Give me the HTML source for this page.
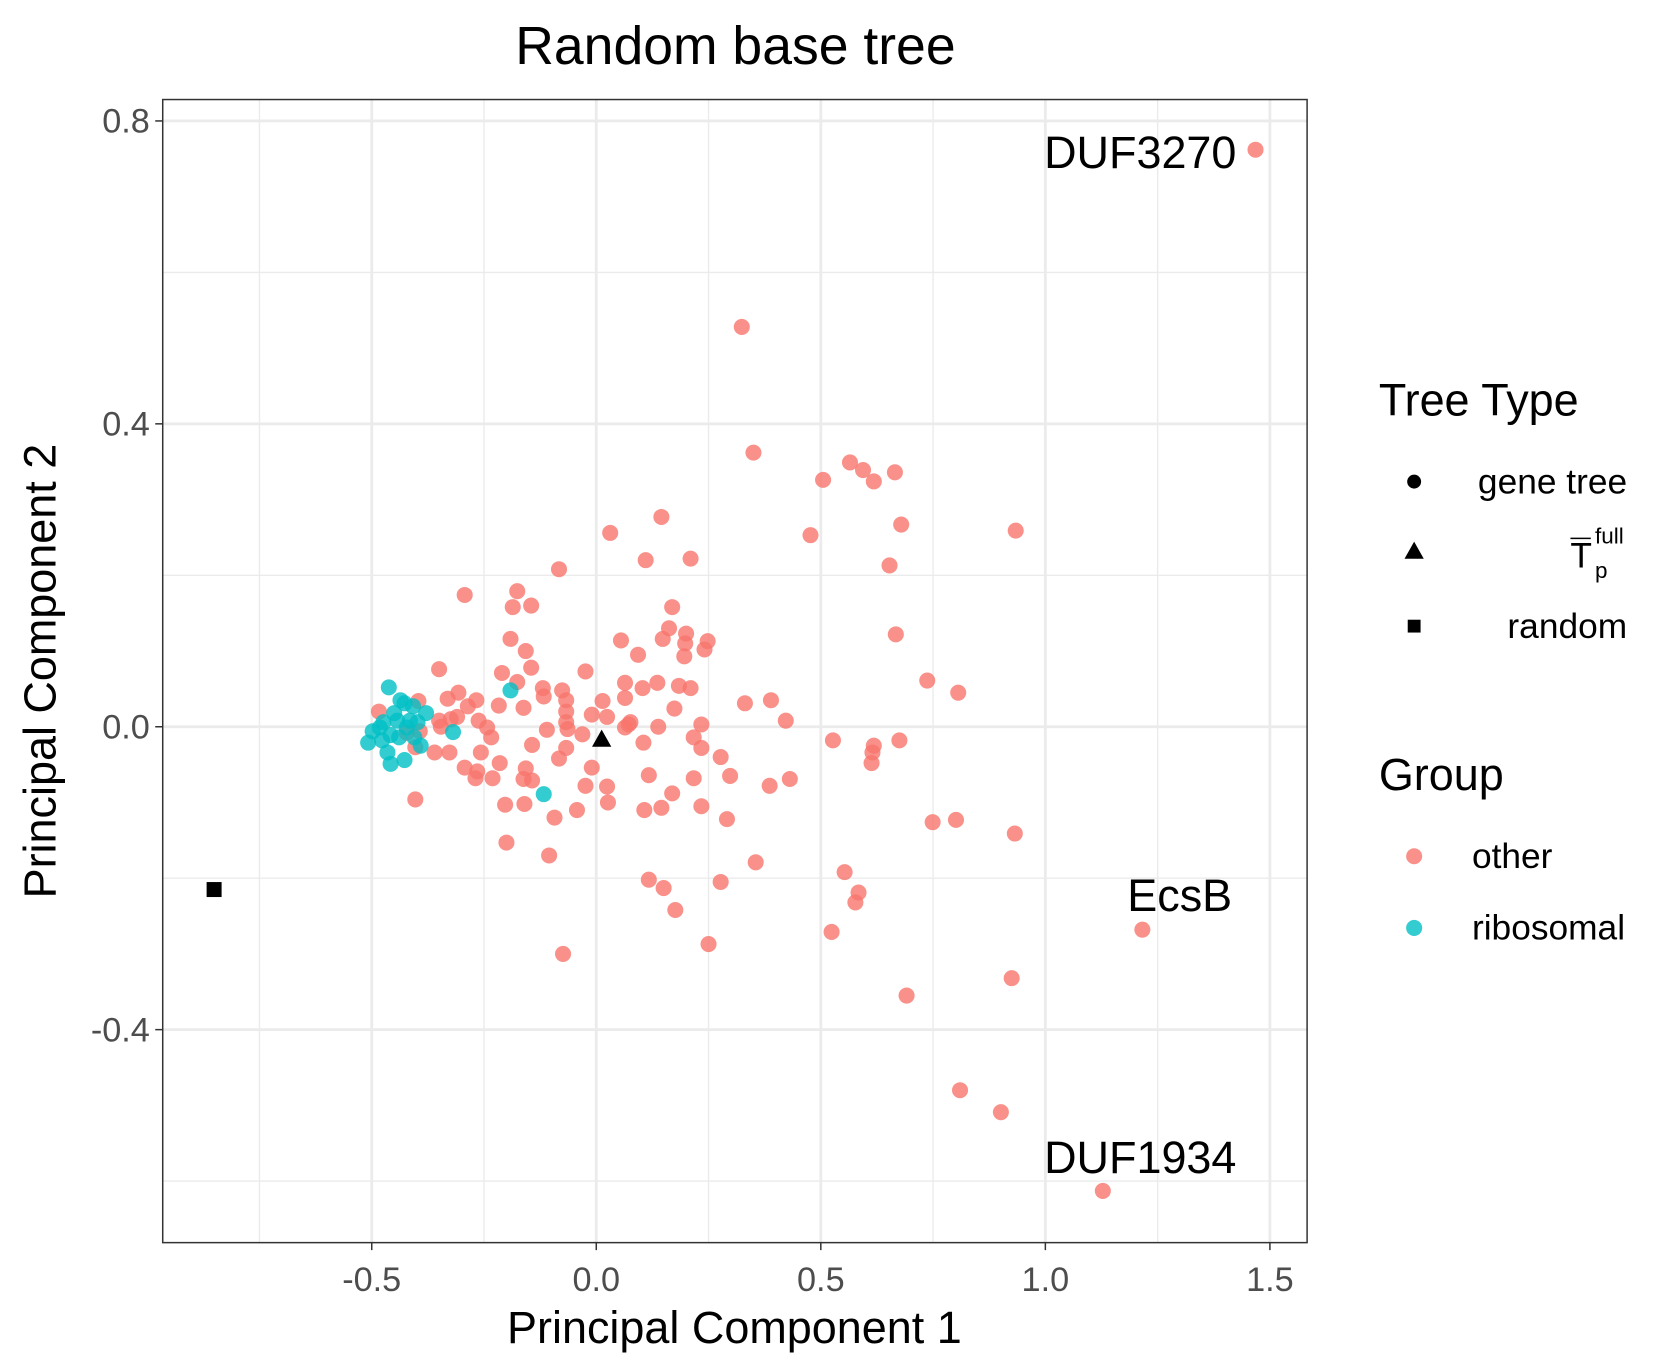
<!DOCTYPE html>
<html><head><meta charset="utf-8"><style>
html,body{margin:0;padding:0;background:#fff;}
svg{display:block;font-family:"Liberation Sans",sans-serif;}
</style></head><body>
<svg width="1670" height="1370" viewBox="0 0 1560 1280" preserveAspectRatio="none" xmlns="http://www.w3.org/2000/svg">
<rect width="1560" height="1280" fill="#fff"/>
<g id="grid"></g>
<g id="pts"></g>
<rect x="152" y="93" width="1069" height="1068" fill="none" stroke="#333" stroke-width="1.4"/>
<g id="axes"></g>
<text x="687" y="60" font-size="50" text-anchor="middle">Random base tree</text>
<text x="686" y="1255" font-size="42" text-anchor="middle">Principal Component 1</text>
<text transform="translate(52,627) rotate(-90)" font-size="42" text-anchor="middle">Principal Component 2</text>
<text x="1155" y="157" font-size="42" text-anchor="end">DUF3270</text>
<text x="1151" y="851" font-size="42" text-anchor="end">EcsB</text>
<text x="1155" y="1096" font-size="42" text-anchor="end">DUF1934</text>
<g>
<text x="1288" y="388" font-size="42">Tree Type</text>
<circle cx="1321" cy="450" r="6.5" fill="#000"/>
<text x="1520" y="461" font-size="33" text-anchor="end">gene tree</text>
<polygon points="1321,506 1330,522 1312,522" fill="#000"/>
<text x="1467" y="530" font-size="33">T</text>
<line x1="1467" y1="503" x2="1486" y2="503" stroke="#000" stroke-width="1.5"/>
<text x="1490" y="508" font-size="21">full</text>
<text x="1490" y="540" font-size="21">p</text>
<rect x="1315" y="579" width="12" height="12" fill="#000"/>
<text x="1520" y="596" font-size="33" text-anchor="end">random</text>
</g>
<g>
<text x="1288" y="738" font-size="42">Group</text>
<circle cx="1321" cy="800" r="7.5" fill="#F8766D" fill-opacity="0.8"/>
<text x="1375" y="811" font-size="33">other</text>
<circle cx="1321" cy="867" r="7.5" fill="#00BFC4" fill-opacity="0.8"/>
<text x="1375" y="878" font-size="33">ribosomal</text>
</g>
</svg>
<script>
const otherX=[1.468,0.324,0.350,0.565,0.594,0.665,0.505,0.618,0.145,0.679,0.934,0.031,0.477,0.110,0.210,0.653,-0.083,-0.293,-0.176,-0.186,-0.145,0.169,0.162,0.200,0.055,0.148,0.248,0.667,-0.191,0.198,0.241,0.093,-0.157,0.196,-0.350,-0.145,-0.024,-0.210,0.737,0.064,0.136,0.103,0.184,0.210,0.806,-0.176,-0.307,-0.119,-0.076,-0.267,-0.286,-0.331,-0.396,-0.117,-0.067,0.014,0.064,0.331,0.389,-0.217,-0.162,0.174,-0.067,0.024,-0.010,-0.067,0.076,0.072,0.064,0.138,0.234,0.422,-0.350,-0.324,-0.310,-0.262,-0.346,-0.064,-0.110,-0.243,-0.031,-0.234,0.217,0.105,0.527,0.675,0.618,-0.143,-0.067,0.234,0.615,0.613,0.277,-0.327,-0.360,-0.257,-0.215,-0.293,-0.265,-0.269,-0.231,-0.157,-0.162,-0.143,-0.083,-0.010,0.117,0.217,0.298,-0.024,0.024,0.169,0.386,0.431,-0.203,-0.160,0.026,-0.043,0.107,0.145,0.234,-0.093,0.291,0.749,0.801,0.932,-0.403,-0.200,-0.105,0.355,0.553,0.117,0.150,0.277,0.584,0.577,0.176,1.216,0.524,0.250,-0.074,0.925,0.691,0.810,0.901,1.128,-0.484,-0.393,-0.422,-0.403];
const otherY=[0.762,0.528,0.362,0.349,0.339,0.336,0.326,0.324,0.277,0.267,0.259,0.256,0.253,0.220,0.222,0.213,0.208,0.174,0.179,0.158,0.160,0.158,0.130,0.123,0.114,0.116,0.113,0.122,0.116,0.110,0.102,0.095,0.100,0.093,0.076,0.078,0.073,0.071,0.061,0.058,0.058,0.051,0.054,0.051,0.045,0.059,0.045,0.051,0.048,0.035,0.027,0.037,0.034,0.040,0.035,0.034,0.038,0.031,0.035,0.028,0.025,0.024,0.020,0.013,0.016,0.006,0.006,0.003,-0.001,0.000,0.003,0.008,0.008,0.010,0.013,0.008,0.000,-0.003,-0.004,-0.001,-0.010,-0.014,-0.014,-0.021,-0.018,-0.018,-0.025,-0.024,-0.028,-0.028,-0.034,-0.048,-0.040,-0.034,-0.034,-0.034,-0.048,-0.054,-0.059,-0.068,-0.068,-0.055,-0.069,-0.071,-0.042,-0.054,-0.064,-0.068,-0.065,-0.078,-0.079,-0.088,-0.078,-0.069,-0.103,-0.102,-0.100,-0.110,-0.110,-0.107,-0.105,-0.120,-0.122,-0.126,-0.123,-0.141,-0.096,-0.153,-0.170,-0.179,-0.192,-0.202,-0.213,-0.205,-0.219,-0.232,-0.242,-0.268,-0.271,-0.287,-0.300,-0.332,-0.355,-0.480,-0.509,-0.613,0.020,-0.006,-0.008,-0.027];
const riboX=[-0.462,-0.436,-0.427,-0.408,-0.379,-0.450,-0.474,-0.443,-0.415,-0.498,-0.508,-0.477,-0.458,-0.439,-0.405,-0.465,-0.427,-0.458,-0.391,-0.319,-0.191,-0.117,-0.422,-0.398,-0.482];
const riboY=[0.052,0.035,0.031,0.027,0.018,0.018,0.006,0.008,0.008,-0.006,-0.021,-0.018,-0.011,-0.014,-0.014,-0.034,-0.044,-0.049,-0.025,-0.007,0.048,-0.089,-0.001,0.006,-0.001];
const baseTreeX=[0.012], baseTreeY=[-0.018];
const randomX=[-0.851], randomY=[-0.215];
const xTicks=[-0.5,0,0.5,1,1.5], xTickLabels=["-0.5","0.0","0.5","1.0","1.5"];
const yTicks=[0.8,0.4,0,-0.4], yTickLabels=["0.8","0.4","0.0","-0.4"];
const xMinor=[-0.75,-0.25,0.25,0.75,1.25], yMinor=[0.6,0.2,-0.2,-0.6];

const L=152,R=1221,T=93,B=1161;
const sx=v=>557+v*419.5, sy=v=>679-v*707.5;
const NS="http://www.w3.org/2000/svg";
function mk(tag,attrs,parent){const e=document.createElementNS(NS,tag);for(const k in attrs)e.setAttribute(k,attrs[k]);parent.appendChild(e);return e;}
const grid=document.getElementById('grid'),axes=document.getElementById('axes'),pts=document.getElementById('pts');
xMinor.forEach(v=>{const e=mk('line',{x1:sx(v),x2:sx(v),y1:T,y2:B,stroke:'#ebebeb','stroke-width':1.3},grid);

});
yMinor.forEach(v=>{const e=mk('line',{x1:L,x2:R,y1:sy(v),y2:sy(v),stroke:'#ebebeb','stroke-width':1.3},grid);

});
xTicks.forEach((v,i)=>{const e=mk('line',{x1:sx(v),x2:sx(v),y1:T,y2:B,stroke:'#ebebeb','stroke-width':2.6},grid);


const t=mk('line',{x1:sx(v),x2:sx(v),y1:B,y2:B+7,stroke:'#333','stroke-width':1.4},axes);


const l=mk('text',{x:sx(v),y:B+45,'font-size':32,fill:'#4d4d4d','text-anchor':'middle'},axes);l.textContent=xTickLabels[i];

});
yTicks.forEach((v,i)=>{const e=mk('line',{x1:L,x2:R,y1:sy(v),y2:sy(v),stroke:'#ebebeb','stroke-width':2.6},grid);


const t=mk('line',{x1:L-7,x2:L,y1:sy(v),y2:sy(v),stroke:'#333','stroke-width':1.4},axes);


const l=mk('text',{x:L-12,y:sy(v)+11,'font-size':32,fill:'#4d4d4d','text-anchor':'end'},axes);l.textContent=yTickLabels[i];

});
otherX.forEach((v,i)=>{const c=mk('circle',{cx:sx(v),cy:sy(otherY[i]),r:7.5,fill:'#F8766D','fill-opacity':0.8},pts);

});
riboX.forEach((v,i)=>{const c=mk('circle',{cx:sx(v),cy:sy(riboY[i]),r:7.5,fill:'#00BFC4','fill-opacity':0.8},pts);

});
baseTreeX.forEach((v,i)=>{const x=sx(v),y=sy(baseTreeY[i]);const p=mk('polygon',{points:`${x},${y-10} ${x+9},${y+6} ${x-9},${y+6}`,fill:'#000'},pts);

});
randomX.forEach((v,i)=>{const x=sx(v),y=sy(randomY[i]);const p=mk('rect',{x:x-7,y:y-7,width:14,height:14,fill:'#000'},pts);

});
</script>
</body></html>
